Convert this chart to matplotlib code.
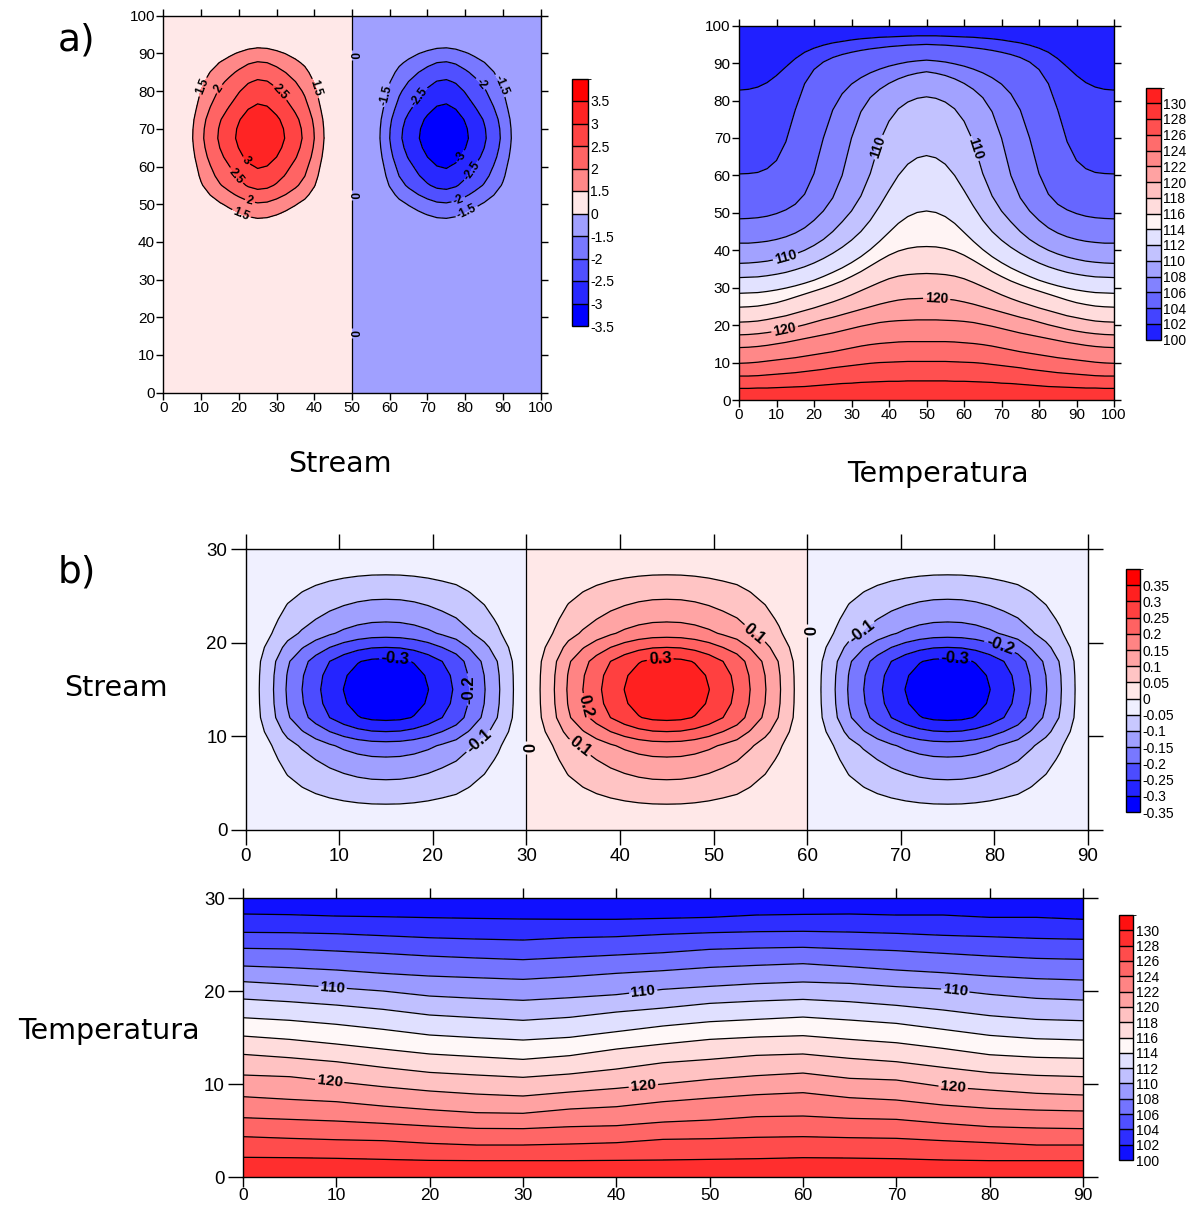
import numpy as np
import matplotlib
matplotlib.use("Agg")
import matplotlib.pyplot as plt
from matplotlib.colors import ListedColormap, BoundaryNorm

plt.rcParams["font.family"] = ["Liberation Sans", "DejaVu Sans"]

# ---------------- a) stream function, 100 x 100 box (two cells)
a_stream_xs = np.arange(0, 100.01, 2.5)
a_stream_ys = np.arange(0, 100.01, 2.5)
# horizontal and vertical shape of the cells
a_stream_xprof = [0.08, 0.17, 0.28, 0.42, 0.55, 0.655, 0.745, 0.82, 0.895, 0.965, 1.0,
                  0.985, 0.93, 0.86, 0.785, 0.70, 0.58, 0.44, 0.30, 0.15, 0.0,
                  -0.15, -0.30, -0.44, -0.58, -0.70, -0.785, -0.86, -0.93, -0.985, -1.0,
                  -0.965, -0.895, -0.82, -0.745, -0.655, -0.55, -0.42, -0.28, -0.17, -0.08]
a_stream_yprof = [0.02, 0.02, 0.02, 0.025, 0.03, 0.035, 0.04, 0.045, 0.05, 0.06, 0.07,
                  0.08, 0.09, 0.11, 0.13, 0.17, 0.22, 0.30, 0.39, 0.48, 0.565,
                  0.67, 0.765, 0.83, 0.88, 0.935, 0.975, 1.0, 0.99, 0.96, 0.905,
                  0.85, 0.80, 0.74, 0.67, 0.59, 0.50, 0.39, 0.28, 0.19, 0.10]
a_stream_peak = 3.45
a_stream_levels = [-3.5, -3, -2.5, -2, -1.5, 0, 1.5, 2, 2.5, 3, 3.5, 4]
a_stream_colors = ["#0000ff", "#2828ff", "#5050ff", "#7878ff", "#a0a0ff", "#ffe8e8",
                   "#ff8888", "#ff6464", "#ff4444", "#ff2424", "#ff0000"]
a_stream_ticklabels = ["-3.5", "-3", "-2.5", "-2", "-1.5", "0", "1.5", "2", "2.5", "3", "3.5"]

# ---------------- a) temperature: height of each isotherm, left half (mirrored about x=50)
a_temp_xs = np.arange(0, 50.01, 2.5)
a_temp_iso = [102, 104, 106, 108, 110, 112, 114, 116, 118, 120, 122, 124, 126, 128]
a_temp_heights = [
    [82.8, 83.0, 83.6, 84.8, 86.7, 89.0, 91.2, 92.9, 94.0, 94.8, 95.4, 95.8, 96.2, 96.5, 96.7, 96.9, 97.0, 97.1, 97.2, 97.3, 97.3],
    [60.4, 60.5, 60.8, 61.8, 64.0, 69.0, 77.5, 84.5, 88.3, 90.3, 91.5, 92.3, 92.9, 93.4, 93.8, 94.1, 94.4, 94.6, 94.8, 94.9, 95.0],
    [48.4, 48.5, 48.7, 49.1, 49.8, 50.8, 52.3, 55.0, 60.5, 70.0, 77.5, 81.8, 84.4, 86.1, 87.4, 88.4, 89.2, 89.8, 90.3, 90.6, 90.8],
    [41.9, 41.9, 42.1, 42.4, 42.9, 43.6, 44.6, 46.0, 48.0, 50.5, 54.0, 60.0, 70.0, 77.0, 80.8, 83.0, 84.6, 85.8, 86.7, 87.3, 87.7],
    [36.5, 36.6, 36.8, 37.1, 37.6, 38.2, 39.0, 40.0, 41.3, 42.9, 45.0, 47.6, 50.5, 54.5, 60.5, 69.0, 74.5, 77.8, 79.6, 80.6, 81.0],
    [32.7, 32.8, 32.9, 33.2, 33.6, 34.1, 34.8, 35.6, 36.6, 37.8, 39.2, 40.8, 42.7, 45.0, 48.0, 51.8, 56.0, 60.0, 63.0, 64.7, 65.3],
    [28.5, 28.6, 28.7, 29.0, 29.4, 29.9, 30.5, 31.2, 32.0, 33.0, 34.1, 35.3, 36.7, 38.3, 40.2, 42.4, 44.8, 47.2, 49.0, 50.1, 50.5],
    [24.8, 24.9, 25.1, 25.5, 26.0, 26.7, 27.5, 28.3, 29.1, 29.9, 30.8, 31.8, 33.0, 34.3, 35.8, 37.3, 38.7, 39.8, 40.5, 40.9, 41.0],
    [20.8, 20.9, 21.1, 21.5, 22.0, 22.5, 23.2, 23.9, 24.6, 25.4, 26.2, 27.1, 28.1, 29.2, 30.3, 31.4, 32.4, 33.1, 33.5, 33.7, 33.8],
    [17.4, 17.5, 17.7, 18.0, 18.4, 18.9, 19.5, 20.1, 20.8, 21.5, 22.1, 22.8, 23.5, 24.2, 24.9, 25.6, 26.2, 26.7, 27.0, 27.1, 27.2],
    [14.0, 14.1, 14.3, 14.6, 15.0, 15.4, 15.9, 16.4, 16.9, 17.4, 17.9, 18.5, 19.1, 19.7, 20.2, 20.7, 21.0, 21.2, 21.3, 21.4, 21.4],
    [9.8, 9.9, 10.1, 10.4, 10.7, 11.0, 11.3, 11.7, 12.1, 12.5, 12.9, 13.4, 13.9, 14.4, 14.8, 15.1, 15.3, 15.5, 15.6, 15.6, 15.6],
    [6.4, 6.4, 6.5, 6.7, 6.9, 7.1, 7.3, 7.6, 7.9, 8.2, 8.6, 8.9, 9.2, 9.5, 9.8, 10.0, 10.1, 10.2, 10.3, 10.3, 10.3],
    [3.1, 3.1, 3.2, 3.2, 3.3, 3.4, 3.5, 3.6, 3.8, 4.0, 4.2, 4.4, 4.5, 4.7, 4.8, 4.9, 5.0, 5.0, 5.1, 5.1, 5.1],
]
a_temp_bottom, a_temp_top = 129.4, 101.0
temp_levels = list(range(100, 133, 2))
temp_ticklabels = [str(v) for v in range(100, 131, 2)]
a_temp_colors = ["#2020ff", "#4444ff", "#6666ff", "#8282ff", "#a2a2ff", "#c2c2ff", "#e2e2ff", "#fff4f4",
                 "#ffdcdc", "#ffc0c0", "#ffa2a2", "#ff8888", "#ff6c6c", "#ff5050", "#ff3636", "#ff2020"]

# ---------------- b) stream function, 90 x 30 box (three cells)
b_stream_xs = np.arange(0, 90.01, 1.5)
b_stream_ys = np.arange(0, 30.01, 1.5)
b_stream_cell = [0.0, 0.15, 0.295, 0.46, 0.585, 0.70, 0.80, 0.885, 0.95, 0.99, 1.0,
                 0.99, 0.95, 0.885, 0.80, 0.715, 0.58, 0.45, 0.31, 0.16, 0.0]
b_stream_yprof = [0.02, 0.08, 0.16, 0.245, 0.33, 0.42, 0.53, 0.735, 0.92, 0.98, 1.0,
                  0.98, 0.92, 0.735, 0.53, 0.42, 0.33, 0.245, 0.16, 0.08, 0.02]
b_stream_peak = 0.34
b_stream_levels = [-0.35, -0.3, -0.25, -0.2, -0.15, -0.1, -0.05, 0, 0.05, 0.1, 0.15, 0.2, 0.25, 0.3, 0.35, 0.4]
b_stream_colors = ["#0000ff", "#2424ff", "#4c4cff", "#7878ff", "#a0a0ff", "#c8c8ff", "#f0f0ff", "#ffe8e8",
                   "#ffc4c4", "#ffa4a4", "#ff8484", "#ff6262", "#ff4040", "#ff2020", "#ff0000"]
b_stream_ticklabels = ["-0.35", "-0.3", "-0.25", "-0.2", "-0.15", "-0.1", "-0.05", "0",
                       "0.05", "0.1", "0.15", "0.2", "0.25", "0.3", "0.35"]

# ---------------- b) temperature: height of each isotherm along x
b_temp_xs = np.arange(0, 90.01, 5)
b_temp_heights = [
    [28.31, 28.24, 28.09, 28.02, 27.92, 27.84, 27.77, 27.74, 27.74, 27.84, 27.95, 28.2, 28.27, 28.31, 28.2, 28.2, 27.95, 27.95, 27.74],
    [26.34, 26.30, 26.19, 25.98, 25.76, 25.62, 25.51, 25.76, 25.87, 26.12, 26.30, 26.41, 26.45, 26.37, 26.23, 26.02, 25.87, 25.69, 25.59],
    [24.62, 24.55, 24.33, 24.08, 23.79, 23.58, 23.40, 23.65, 23.90, 24.15, 24.51, 24.65, 24.73, 24.55, 24.37, 24.08, 23.79, 23.54, 23.43],
    [22.72, 22.54, 22.29, 21.93, 21.64, 21.46, 21.28, 21.57, 21.93, 22.22, 22.57, 22.79, 22.97, 22.65, 22.29, 22.00, 21.64, 21.36, 21.21],
    [21.04, 20.75, 20.39, 20.03, 19.49, 19.24, 19.03, 19.31, 19.64, 20.21, 20.53, 20.82, 21.00, 20.85, 20.50, 20.24, 19.67, 19.24, 19.06],
    [19.17, 18.88, 18.52, 18.06, 17.45, 17.16, 16.88, 17.20, 17.77, 18.20, 18.70, 18.95, 19.13, 18.88, 18.49, 17.99, 17.38, 16.98, 16.84],
    [17.16, 16.88, 16.45, 15.91, 15.30, 15.01, 14.76, 15.05, 15.66, 16.27, 16.73, 16.98, 17.23, 16.91, 16.55, 15.91, 15.26, 14.90, 14.76],
    [15.19, 14.83, 14.33, 13.79, 13.26, 12.97, 12.68, 13.08, 13.79, 14.33, 14.83, 15.08, 15.23, 14.83, 14.47, 13.86, 13.18, 12.90, 12.79],
    [13.22, 12.86, 12.43, 11.82, 11.28, 11.00, 10.75, 11.11, 11.64, 12.32, 12.68, 13.11, 13.26, 12.79, 12.43, 11.82, 11.25, 10.96, 10.82],
    [11.00, 10.82, 10.28, 9.74, 9.28, 8.95, 8.74, 9.17, 9.56, 10.03, 10.53, 10.93, 11.21, 10.64, 10.46, 9.74, 9.38, 9.03, 8.85],
    [8.67, 8.38, 8.13, 7.66, 7.27, 6.95, 6.88, 7.34, 7.59, 8.13, 8.52, 8.88, 9.10, 8.56, 8.31, 7.77, 7.41, 7.23, 7.13],
    [6.41, 6.23, 6.05, 5.80, 5.51, 5.26, 5.23, 5.44, 5.55, 5.94, 6.16, 6.52, 6.59, 6.34, 6.23, 5.80, 5.44, 5.30, 5.23],
    [4.37, 4.19, 4.04, 3.94, 3.65, 3.47, 3.47, 3.58, 3.72, 4.08, 4.15, 4.30, 4.37, 4.26, 4.19, 3.94, 3.72, 3.47, 3.47],
    [2.15, 2.11, 2.04, 1.93, 1.82, 1.79, 1.79, 1.79, 1.82, 1.86, 1.93, 2.00, 2.11, 2.07, 2.00, 1.86, 1.79, 1.79, 1.79],
]
b_temp_bottom, b_temp_top = 129.4, 101.0
b_temp_colors = ["#1010ff", "#2e2eff", "#5050ff", "#7474ff", "#9a9aff", "#c0c0ff", "#e0e0ff", "#fff8f8",
                 "#ffdcdc", "#ffc2c2", "#ffa2a2", "#ff8484", "#ff6666", "#ff4c4c", "#ff2e2e", "#ff1010"]


def isotherm_grid(xs, heights, top, t_bottom, t_top, iso):
    # curvilinear grid: one row per isotherm, bottom and top walls added
    h = np.asarray(heights, float)[::-1]
    ys = np.vstack([np.zeros(len(xs)), h, np.full(len(xs), top)])
    ts = np.concatenate([[t_bottom], np.asarray(iso, float)[::-1], [t_top]])
    zz = np.repeat(ts[:, None], len(xs), axis=1)
    xx = np.tile(xs, (len(ys), 1))
    return xx, ys, zz


def frame(ax, xlim, ylim, xstep, ystep, tick_len, size, pad):
    ax.set_xlim(*xlim)
    ax.set_ylim(*ylim)
    ax.set_xticks(np.arange(xlim[0], xlim[1] + 0.1, xstep))
    ax.set_yticks(np.arange(ylim[0], ylim[1] + 0.1, ystep))
    ax.tick_params(direction="out", length=tick_len, width=1, top=True, right=True,
                   labelsize=size, pad=pad)
    for s in ax.spines.values():
        s.set_linewidth(1.0)


def contour_panel(ax, xx, yy, zz, levels, colors, line_levels, label_pos, fmt, label_size):
    cmap = ListedColormap(colors)
    norm = BoundaryNorm(levels, cmap.N)
    cf = ax.contourf(xx, yy, zz, levels=levels, cmap=cmap, norm=norm)
    cs = ax.contour(xx, yy, zz, levels=line_levels, colors="black", linewidths=0.9,
                    linestyles="solid")
    texts = ax.clabel(cs, manual=label_pos, fmt=fmt, fontsize=label_size, inline=True, inline_spacing=2)
    for t in texts:
        t.set_fontweight("bold")
    return cf


def colorbar(fig, cf, rect, labels, size):
    cax = fig.add_axes(rect)
    cb = fig.colorbar(cf, cax=cax, spacing="uniform", drawedges=True)
    cb.set_ticks(cf.levels[:-1])
    cb.set_ticklabels(labels)
    cax.tick_params(length=0, labelsize=size, pad=2)
    cb.outline.set_linewidth(1.0)
    cb.dividers.set_color("black")
    cb.dividers.set_linewidth(1.0)
    return cb


fig = plt.figure(figsize=(11.97, 12.09), dpi=100)
W, H = 1197.0, 1209.0


def rect(x0, y0, x1, y1):
    return [x0 / W, 1 - y1 / H, (x1 - x0) / W, (y1 - y0) / H]


def g_fmt(v):
    return f"{v:g}"


def i_fmt(v):
    return f"{v:.0f}"


# a) stream
ax1 = fig.add_axes(rect(163.3, 15.7, 540.7, 392.7))
z = a_stream_peak * np.outer(a_stream_yprof, a_stream_xprof)
cf = contour_panel(ax1, a_stream_xs, a_stream_ys, z, a_stream_levels, a_stream_colors,
                   a_stream_levels[:-1],
                   [(9.3, 81.6), (13.2, 81.6), (31.8, 80.3), (40.6, 80.8), (22.5, 62.0), (19.0, 57.3),
                    (23.0, 51.1), (20.8, 47.6), (58.7, 79.0), (67.1, 79.0), (85.7, 83.2), (89.7, 81.6),
                    (78.2, 63.0), (82.1, 58.6), (78.2, 51.1), (80.4, 48.0),
                    (50, 89.6), (50, 52.4), (50, 15.8)],
                   g_fmt, 8.5)
frame(ax1, (0, 100), (0, 100), 10, 10, 5, 11, 1)
colorbar(fig, cf, rect(571.5, 78.5, 587.5, 326), a_stream_ticklabels, 10)

# a) temperature
ax2 = fig.add_axes(rect(739, 25.7, 1114, 400))
xs_full = np.concatenate([a_temp_xs, 100 - a_temp_xs[-2::-1]])
h_full = [row + row[-2::-1] for row in a_temp_heights]
xx, yy, zz = isotherm_grid(xs_full, h_full, 100, a_temp_bottom, a_temp_top, a_temp_iso)
cf = contour_panel(ax2, xx, yy, zz, temp_levels, a_temp_colors, a_temp_iso,
                   [(12.3, 38.7), (36.7, 67.7), (62.9, 67.2), (52.7, 26.7), (12.3, 18.3)],
                   i_fmt, 10)
frame(ax2, (0, 100), (0, 100), 10, 10, 5, 11, 1)
colorbar(fig, cf, rect(1145.5, 87.5, 1160.5, 339.5), temp_ticklabels, 10)

# b) stream
ax3 = fig.add_axes(rect(245.5, 549, 1088, 830))
cell = np.asarray(b_stream_cell)
xprof = np.concatenate([-cell, cell[1:], -cell[1:]])
z = b_stream_peak * np.outer(b_stream_yprof, xprof)
cf = contour_panel(ax3, b_stream_xs, b_stream_ys, z, b_stream_levels, b_stream_colors,
                   b_stream_levels[:-1],
                   [(16.0, 18.1), (24.0, 15.0), (24.8, 9.6), (30.2, 8.8), (36.6, 13.3), (35.7, 8.8),
                    (44.3, 18.1), (54.4, 21.0), (60.3, 21.3), (65.9, 21.1), (80.6, 19.7), (75.8, 18.1)],
                   g_fmt, 12)
frame(ax3, (0, 90), (0, 30), 10, 10, 11, 13.5, 2)
colorbar(fig, cf, rect(1126, 569, 1140, 812), b_stream_ticklabels, 10)

# b) temperature
ax4 = fig.add_axes(rect(243, 898.3, 1083, 1177.3))
xx, yy, zz = isotherm_grid(b_temp_xs, b_temp_heights, 30, b_temp_bottom, b_temp_top, a_temp_iso)
cf = contour_panel(ax4, xx, yy, zz, temp_levels, b_temp_colors, a_temp_iso,
                   [(9.6, 20.4), (42.9, 19.8), (76.3, 19.9), (9.3, 10.5), (42.9, 9.8), (76.1, 9.8)],
                   i_fmt, 11)
frame(ax4, (0, 90), (0, 30), 10, 10, 11, 13.5, 2)
ax4.tick_params(axis="x", which="both", length=7, pad=1, labelsize=12.5)
colorbar(fig, cf, rect(1119, 915, 1133, 1160), temp_ticklabels, 10)

# titles and panel letters
title_kw = dict(ha="center", va="center", fontsize=20.5, family="DejaVu Sans")
fig.text(340 / W, 1 - 464 / H, "Stream", **title_kw)
fig.text(938 / W, 1 - 474 / H, "Temperatura", **title_kw)
fig.text(116 / W, 1 - 688 / H, "Stream", **title_kw)
fig.text(109 / W, 1 - 1031 / H, "Temperatura", **title_kw)
fig.text(77 / W, 1 - 40 / H, "a)", ha="center", va="center", fontsize=27, family="DejaVu Sans")
fig.text(77 / W, 1 - 572 / H, "b)", ha="center", va="center", fontsize=27, family="DejaVu Sans")

fig.savefig("out.png", dpi=100, facecolor="white")
